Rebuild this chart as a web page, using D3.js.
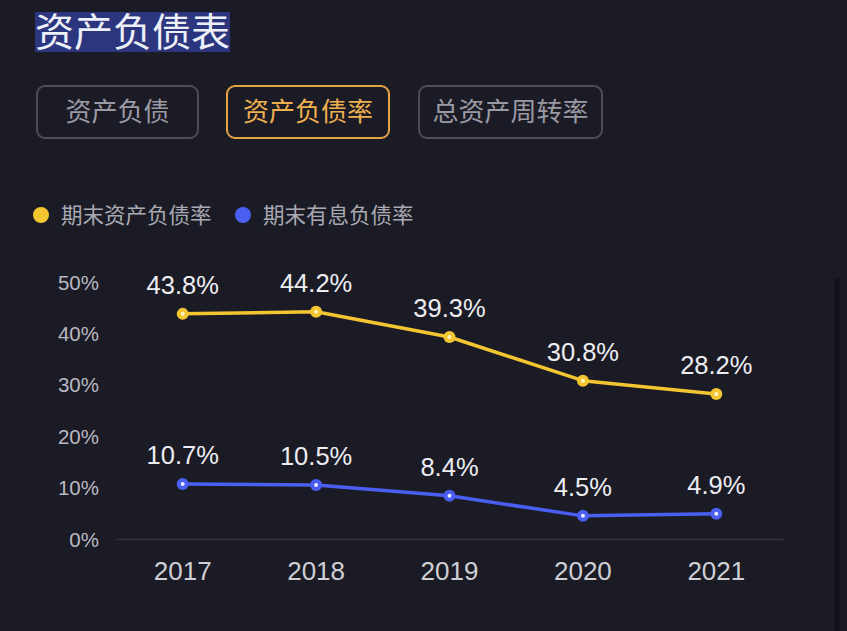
<!DOCTYPE html>
<html><head><meta charset="utf-8">
<script src="https://cdn.jsdelivr.net/npm/d3@7/dist/d3.min.js"></script>
<style>
html,body{margin:0;padding:0;background:#1b1b25;}
svg{display:block;}
</style></head>
<body>
<svg id="c" width="847" height="631"></svg>
<script>
const years = ["2017","2018","2019","2020","2021"];
const assetDebtRatio = [43.8, 44.2, 39.3, 30.8, 28.2];
const interestDebtRatio = [10.7, 10.5, 8.4, 4.5, 4.9];
const yTicks = [0, 10, 20, 30, 40, 50];
const seriesNames = ["期末资产负债率", "期末有息负债率"];
const seriesColors = ["#f2c531", "#4a5ef2"];
const tabs = ["资产负债", "资产负债率", "总资产周转率"];
const title = "资产负债表";

const font = "'Noto Sans CJK SC','Noto Sans',sans-serif";
const latin = "'Liberation Sans',Arial,sans-serif";
const svg = d3.select("#c");
svg.append("rect").attr("width",847).attr("height",631).attr("fill","#1b1b25");

// title with highlight
svg.append("rect").attr("x",35).attr("y",12).attr("width",195).attr("height",40).attr("fill","#2b367f");
svg.append("text").attr("x",35).attr("y",46).attr("font-family",font).attr("font-size",39)
  .attr("font-weight",400).attr("fill","#eef0f8").text(title);

// tabs
const tabX = [36, 226, 418], tabW = [163, 164, 185];
tabs.forEach((t,i)=>{
  const active = i===1;
  svg.append("rect").attr("x",tabX[i]+1).attr("y",86).attr("width",tabW[i]-2).attr("height",52).attr("rx",8)
    .attr("fill","none").attr("stroke",active?"#e4a445":"#4d4d58").attr("stroke-width",2);
  svg.append("text").attr("x",tabX[i]+tabW[i]/2).attr("y",121).attr("text-anchor","middle")
    .attr("font-family",font).attr("font-size",26).attr("fill",active?"#eeb04f":"#9a9aa4").text(t);
});

// legend
const legX = [41, 243];
seriesNames.forEach((n,i)=>{
  svg.append("circle").attr("cx",legX[i]).attr("cy",215).attr("r",8).attr("fill",seriesColors[i]);
  svg.append("text").attr("x",legX[i]+20).attr("y",222.5).attr("font-family",font).attr("font-size",21.5)
    .attr("fill","#a9a9b3").text(n);
});

// scales
const x = d3.scaleBand().domain(years).range([116, 783]);
const y = d3.scaleLinear().domain([0,50]).range([539, 282]);

// right scroll track
svg.append("rect").attr("x",834).attr("y",278).attr("width",6).attr("height",353).attr("fill","#121219");

// y axis
const yAxis = svg.append("g").attr("transform","translate(99,0)")
  .call(d3.axisLeft(y).tickValues(yTicks).tickFormat(d=>d+"%").tickSize(0).tickPadding(0));
yAxis.select(".domain").remove();
yAxis.selectAll("text").attr("font-family",latin).attr("font-size",20.5)
  .attr("fill","#b9b9c2").attr("dy","0.35em");

// x axis
const xAxis = svg.append("g").attr("transform","translate(0,539)")
  .call(d3.axisBottom(x).tickSize(0).tickPadding(0));
xAxis.select(".domain").attr("stroke","#34343f").attr("stroke-width",1.5);
xAxis.selectAll("text").attr("font-family",latin).attr("font-size",26)
  .attr("fill","#cfcfd6").attr("dy","0").attr("y",41);

// series
const series = [assetDebtRatio, interestDebtRatio];
const line = d3.line().x((d,i)=>x(years[i])+x.bandwidth()/2).y(d=>y(d));
series.forEach((vals,si)=>{
  const g = svg.append("g");
  g.append("path").datum(vals).attr("d",line).attr("fill","none").attr("stroke",seriesColors[si]).attr("stroke-width",3.5)
    .attr("stroke-linejoin","round");
  vals.forEach((v,i)=>{
    const cx = x(years[i])+x.bandwidth()/2, cy = y(v);
    g.append("circle").attr("cx",cx).attr("cy",cy).attr("r",6).attr("fill",seriesColors[si]);
    g.append("circle").attr("cx",cx).attr("cy",cy).attr("r",2).attr("fill",si===0?"#fff4c0":"#e8ecff");
    g.append("text").attr("x",cx).attr("y",cy-20).attr("text-anchor","middle")
      .attr("font-family",latin).attr("font-size",25.5)
      .attr("fill","#ededf2").text(v.toFixed(1)+"%");
  });
});
</script>
</body></html>
